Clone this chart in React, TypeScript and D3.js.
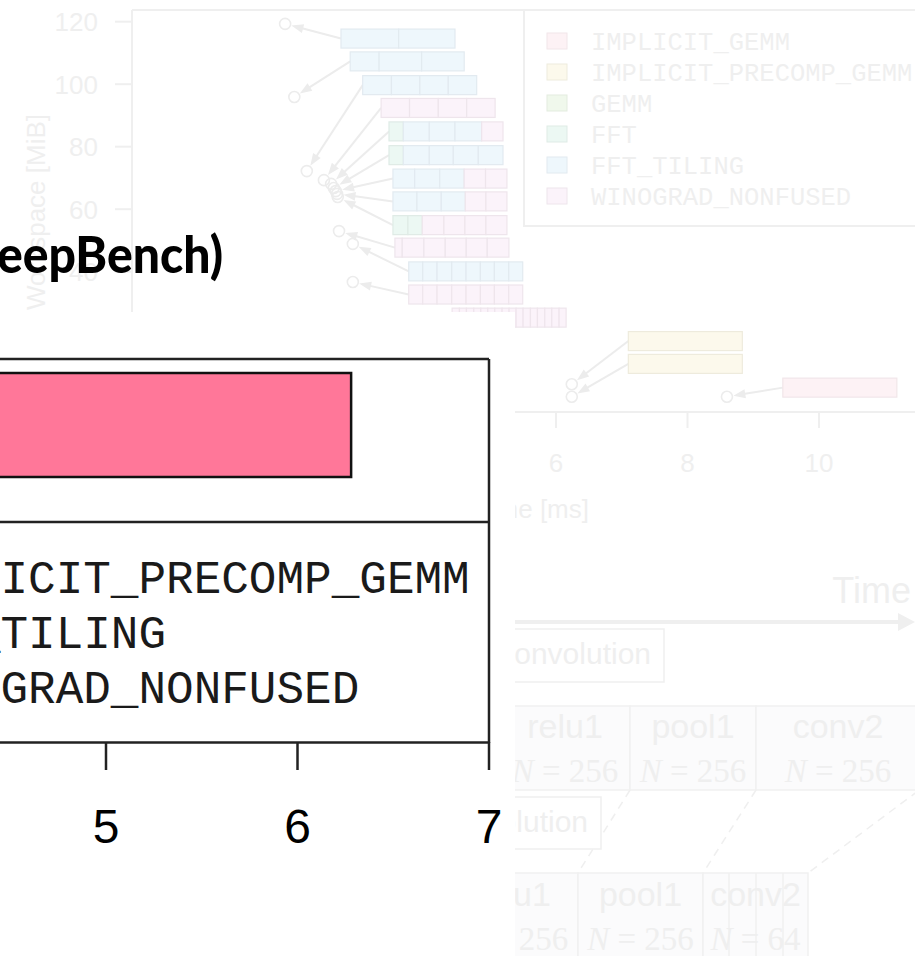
import React from "react";
import * as d3 from "d3";

const W = 915;
const H = 956;

// ---------- background (faded) chart data ----------
const algorithms = ["IMPLICIT_GEMM", "IMPLICIT_PRECOMP_GEMM", "GEMM", "FFT", "FFT_TILING", "WINOGRAD_NONFUSED"];
const algoCodes = ["I", "P", "G", "F", "T", "W"];
const fadedFill = ["#fdf2f5", "#fcf9ec", "#f0f8ec", "#ecf8f3", "#eef7fc", "#fbf3fa"];
const fadedStroke = ["#f1e6e9", "#eeebdd", "#e3ecdf", "#dfebe6", "#e2eaf0", "#eee5ec"];

const wsTicks = [40, 60, 80, 100, 120];
const timeTicks = [4, 6, 8, 10];

const barWorkspace = [114.6, 107.3, 99.7, 92.4, 84.9, 77.3, 69.8, 62.5, 54.9, 47.7, 40.1, 32.7, 25.3, 17.8, 10.5, 2.9];
const barStart = [2.73, 2.87, 3.06, 3.34, 3.46, 3.46, 3.52, 3.52, 3.52, 3.55, 3.76, 3.76, 4.42, 7.1, 7.1, 9.45];
const barAlgoSeq = ["TT", "TTT", "TTTT", "WWWW", "FTTTW", "FTTTT", "TTTWW", "TTTWW", "FFWWWW", "WWWWWW",
  "TTTTTTTT", "WWWWWWWW", "WWWWWWWWWWWWWWWW", "P", "P", "I"];
const barSegWidths = [
  [174, 170],
  [87, 128, 128],
  [86, 85, 85, 85],
  [85, 86, 85, 85],
  [43, 78, 77, 80, 64],
  [43, 78, 72, 75, 74],
  [65, 75, 73, 64, 64],
  [72, 73, 72, 62, 63],
  [45, 43, 65, 63, 63, 63],
  [22, 65, 64, 63, 63, 65],
  [42, 43, 44, 43, 43, 42, 43, 42],
  [42, 43, 44, 43, 43, 42, 43, 42],
  [22, 21, 22, 21, 21, 21, 22, 21, 21, 21, 22, 21, 22, 21, 22, 21],
  [1],
  [1],
  [1],
];
const pointTime = [1.88, 2.02, 2.21, 2.47, 2.58, 2.62, 2.65, 2.67, 2.68, 2.7, 2.91, 2.91, 3.25, 6.24, 6.24, 8.6];
const pointWorkspace = [119.3, 95.9, 72.2, 69.3, 68.1, 66.8, 65.8, 64.9, 63.9, 53.0, 48.9, 36.7, 21.4, 4.0, 0.0, 0.0];

// ---------- foreground chart data ----------
const fgCategories = ["IMPLICIT_GEMM"];
const fgValues = [6.28];
const fgTicks = [5, 6, 7];
const fgLegendNames = ["IMPLICIT_PRECOMP_GEMM", "FFT_TILING", "WINOGRAD_NONFUSED"];
const titleText = "eepBench)";

// ---------- faded diagram data ----------
const row1Layers = ["relu1", "pool1", "conv2"];
const row1N = ["256", "256", "256"];
const row2Layers = ["relu1", "pool1", "conv2"];
const row2N = ["256", "256", "64"];

const SANS = "'Liberation Sans', Arial, Helvetica, sans-serif";
const MONO = "'Courier New', 'Liberation Mono', monospace";
const SERIF = "'Liberation Serif', 'DejaVu Serif', serif";

const BG_TEXT = "#efefef";
const BG_LINE = "#efefef";
const BG_ARROW = "#ececec";

function arrowGeom(x1: number, y1: number, x2: number, y2: number, r: number) {
  const dx = x2 - x1, dy = y2 - y1;
  const L = Math.hypot(dx, dy);
  const ux = dx / L, uy = dy / L;
  const tx = x2 - ux * (r + 1), ty = y2 - uy * (r + 1);
  const bx = tx - ux * 12, by = ty - uy * 12;
  const px = -uy, py = ux;
  const head = `${tx},${ty} ${bx + px * 4.5},${by + py * 4.5} ${bx - px * 4.5},${by - py * 4.5}`;
  return { line: [x1, y1, bx + ux * 2, by + uy * 2], head };
}

export default function App() {
  React.useEffect(() => {
    document.body.style.margin = "0";
  }, []);

  // background scales
  const xb = d3.scaleLinear().domain([6, 10]).range([556, 819]);
  const yb = d3.scaleLinear().domain([40, 120]).range([271.7, 21.7]);
  const BAR_W = 114;
  const BAR_H = 19;
  const R = 5.5;

  // foreground scales
  const xf = d3.scaleLinear().domain([5, 7]).range([106, 489]);
  const yf = d3.scaleBand().domain(fgCategories).range([373, 477]).padding(0);

  const colorOf = (c: string) => fadedFill[algoCodes.indexOf(c)];
  const strokeOf = (c: string) => fadedStroke[algoCodes.indexOf(c)];

  return (
    <svg width={W} height={H} style={{ position: "absolute", left: 0, top: 0, display: "block", background: "#fff" }}>
      <rect x={0} y={0} width={W} height={H} fill="#ffffff" />

      {/* ===== faded background chart ===== */}
      <g>
        <line x1={132} y1={10} x2={132} y2={412} stroke={BG_LINE} strokeWidth={2} />
        <line x1={132} y1={10} x2={W} y2={10} stroke={BG_LINE} strokeWidth={2} />
        {wsTicks.map((t) => (
          <g key={"yt" + t}>
            <line x1={115} x2={132} y1={yb(t)} y2={yb(t)} stroke={BG_LINE} strokeWidth={2} />
            <text x={98} y={yb(t)} dy="0.36em" textAnchor="end" fontFamily={SANS} fontSize={26} fill={BG_TEXT}>
              {t}
            </text>
          </g>
        ))}
        <text transform="translate(45,212) rotate(-90)" textAnchor="middle" fontFamily={SANS} fontSize={26} fill={BG_TEXT}>
          Workspace [MiB]
        </text>
        <line x1={xb(4)} x2={W} y1={412} y2={412} stroke={BG_LINE} strokeWidth={2} />
        {timeTicks.map((t) => (
          <g key={"xt" + t}>
            <line x1={xb(t)} x2={xb(t)} y1={412} y2={428} stroke={BG_LINE} strokeWidth={2} />
            <text x={xb(t)} y={472} textAnchor="middle" fontFamily={SANS} fontSize={26} fill={BG_TEXT}>
              {t}
            </text>
          </g>
        ))}
        <text x={589} y={518} textAnchor="end" fontFamily={SANS} fontSize={26} fill={BG_TEXT}>
          Time [ms]
        </text>

        {barWorkspace.map((ws, i) => {
          const x1 = xb(barStart[i]);
          const y1 = yb(ws);
          const cx = xb(pointTime[i]);
          const cy = yb(pointWorkspace[i]);
          const a = arrowGeom(x1, y1, cx, cy, R);
          return (
            <g key={"ar" + i}>
              <line x1={a.line[0]} y1={a.line[1]} x2={a.line[2]} y2={a.line[3]} stroke={BG_ARROW} strokeWidth={2} />
              <polygon points={a.head} fill={BG_ARROW} />
              <circle cx={cx} cy={cy} r={R} fill="none" stroke={BG_ARROW} strokeWidth={1.6} />
            </g>
          );
        })}

        {barWorkspace.map((ws, i) => {
          const segs = barSegWidths[i];
          const total = d3.sum(segs);
          const sx = d3.scaleLinear().domain([0, total]).range([xb(barStart[i]), xb(barStart[i]) + BAR_W]);
          let acc = 0;
          return (
            <g key={"bar" + i}>
              {segs.map((w, j) => {
                const x0 = sx(acc);
                acc += w;
                const x1 = sx(acc);
                const code = barAlgoSeq[i][j];
                return (
                  <rect
                    key={j}
                    x={x0}
                    y={yb(ws) - BAR_H / 2}
                    width={x1 - x0}
                    height={BAR_H}
                    fill={colorOf(code)}
                    stroke={strokeOf(code)}
                    strokeWidth={1.2}
                  />
                );
              })}
            </g>
          );
        })}

        <rect x={524} y={10} width={500} height={216} fill="#ffffff" stroke={BG_LINE} strokeWidth={2} />
        {algorithms.map((name, i) => (
          <g key={"lg" + i}>
            <rect x={547} y={33 + i * 31} width={20} height={16} fill={fadedFill[i]} stroke={fadedStroke[i]} strokeWidth={1} />
            <text x={591} y={41 + i * 31} dy="0.35em" fontFamily={MONO} fontSize={25.5} fill={BG_TEXT}>
              {name}
            </text>
          </g>
        ))}
      </g>

      {/* ===== faded pipeline diagram ===== */}
      <g>
        <text x={911} y={603} textAnchor="end" fontFamily={SANS} fontSize={36} fill={BG_TEXT}>
          Time
        </text>
        <line x1={470} x2={902} y1={622} y2={622} stroke={BG_LINE} strokeWidth={4} />
        <polygon points="898,613 915,622 898,631" fill={BG_LINE} />

        <rect x={470} y={629} width={194} height={53} fill="#ffffff" stroke={BG_LINE} strokeWidth={1.5} />
        <text x={651} y={664} textAnchor="end" fontFamily={SANS} fontSize={30} fill={BG_TEXT}>
          Convolution
        </text>

        {[
          [500, 630],
          [630, 756],
          [756, 920],
        ].map((b, i) => (
          <g key={"r1" + i}>
            <rect x={b[0]} y={706} width={b[1] - b[0]} height={84} fill="#fbfbfc" stroke="#f1f1f1" strokeWidth={1.5} />
            <text x={(b[0] + b[1]) / 2} y={738} textAnchor="middle" fontFamily={SANS} fontSize={34} fill={BG_TEXT}>
              {row1Layers[i]}
            </text>
            <text x={(b[0] + b[1]) / 2} y={782} textAnchor="middle" fontFamily={SERIF} fontSize={33} fill={BG_TEXT}>
              <tspan fontStyle="italic">N</tspan>
              <tspan> = {row1N[i]}</tspan>
            </text>
          </g>
        ))}

        {[
          [630, 790, 578, 873],
          [756, 790, 703, 873],
          [918, 791, 808, 873],
        ].map((l, i) => (
          <line key={"dl" + i} x1={l[0]} y1={l[1]} x2={l[2]} y2={l[3]} stroke={BG_LINE} strokeWidth={1.5} strokeDasharray="8,6" />
        ))}

        <rect x={420} y={797} width={181} height={52} fill="#ffffff" stroke={BG_LINE} strokeWidth={1.5} />
        <text x={588} y={832} textAnchor="end" fontFamily={SANS} fontSize={30} fill={BG_TEXT}>
          Convolution
        </text>

        {[
          [450, 578],
          [578, 703],
          [703, 808],
        ].map((b, i) => (
          <rect key={"r2" + i} x={b[0]} y={873} width={b[1] - b[0]} height={100} fill="#fbfbfc" stroke="#f1f1f1" strokeWidth={1.5} />
        ))}
        {[729, 756, 783].map((x, i) => (
          <line key={"sub" + i} x1={x} x2={x} y1={873} y2={960} stroke="#f1f1f1" strokeWidth={1.5} />
        ))}
        {[
          [474, 552],
          [578, 703],
          [703, 808],
        ].map((b, i) => (
          <g key={"r2t" + i}>
            <text x={(b[0] + b[1]) / 2} y={906} textAnchor="middle" fontFamily={SANS} fontSize={34} fill={BG_TEXT}>
              {row2Layers[i]}
            </text>
            <text x={i === 0 ? 515 : (b[0] + b[1]) / 2} y={950} textAnchor="middle" fontFamily={SERIF} fontSize={33} fill={BG_TEXT}>
              <tspan fontStyle="italic">N</tspan>
              <tspan> = {row2N[i]}</tspan>
            </text>
          </g>
        ))}
      </g>

      {/* ===== white panel of foreground slide ===== */}
      <rect x={0} y={312} width={515} height={H - 312} fill="#ffffff" />

      {/* ===== foreground chart ===== */}
      <g>
        {fgCategories.map((c, i) => (
          <rect
            key={c}
            x={xf(0)}
            y={yf(c)}
            width={xf(fgValues[i]) - xf(0)}
            height={yf.bandwidth()}
            fill="#ff7799"
            stroke="#111"
            strokeWidth={2.5}
          />
        ))}
        <line x1={-10} x2={xf(7)} y1={359} y2={359} stroke="#222" strokeWidth={2.5} />
        <line x1={xf(7)} x2={xf(7)} y1={359} y2={743} stroke="#222" strokeWidth={2.5} />
        <line x1={-10} x2={xf(7)} y1={522} y2={522} stroke="#222" strokeWidth={2.5} />
        <line x1={-10} x2={xf(7)} y1={742.5} y2={742.5} stroke="#222" strokeWidth={2.5} />

        {fgLegendNames.map((n, i) => (
          <text key={n} x={-110} y={593 + i * 55} fontFamily={MONO} fontSize={46} fill="#1a1a1a">
            {n}
          </text>
        ))}

        {fgTicks.map((t) => (
          <g key={"ft" + t}>
            <line x1={xf(t)} x2={xf(t)} y1={742} y2={770} stroke="#222" strokeWidth={2.5} />
            <text x={xf(t)} y={843} textAnchor="middle" fontFamily={SANS} fontSize={48} fill="#000">
              {t}
            </text>
          </g>
        ))}
      </g>

      {/* ===== title fragment ===== */}
      <text
        x={-3}
        y={273}
        fontFamily="Lato, 'Open Sans', sans-serif"
        fontWeight={900}
        fontSize={52}
        fill="#000"
        textLength={226}
        lengthAdjust="spacingAndGlyphs"
      >
        {titleText}
      </text>
    </svg>
  );
}
